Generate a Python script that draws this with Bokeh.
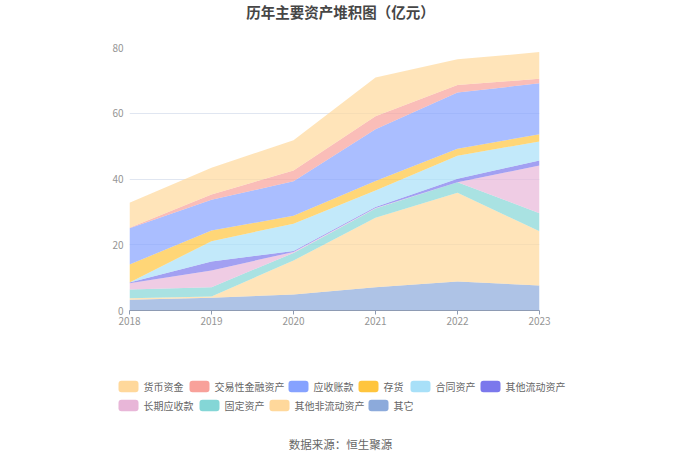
from bokeh.plotting import figure
from bokeh.models import ColumnDataSource, Range1d, FixedTicker
from bokeh.layouts import column, row
from bokeh.core.properties import value
from bokeh.embed import file_html
from bokeh.resources import INLINE

years = [2018, 2019, 2020, 2021, 2022, 2023]

# series values (亿元)
huobi = [7.6, 8.1, 9.2, 11.8, 7.8, 8.1]           # 货币资金
jiaoyi = [0.2, 1.6, 3.3, 4.0, 2.3, 1.4]           # 交易性金融资产
yingshou = [11.0, 9.4, 10.5, 15.7, 17.1, 15.5]    # 应收账款
cunhuo = [5.5, 3.2, 2.4, 2.9, 2.1, 2.2]           # 存货
hetong = [0.0, 6.2, 8.3, 5.0, 7.0, 5.8]           # 合同资产
qita_ld = [0.2, 2.7, 0.3, 0.3, 1.1, 1.5]          # 其他流动资产
changqi = [1.9, 5.1, 0.3, 0.2, 0.0, 14.5]         # 长期应收款
guding = [2.65, 2.85, 2.3, 2.8, 3.2, 5.5]         # 固定资产
qita_fld = [0.5, 0.4, 10.3, 21.1, 27.0, 16.5]     # 其他非流动资产
qita = [3.25, 3.85, 4.9, 7.1, 8.8, 7.6]           # 其它

names = ["货币资金", "交易性金融资产", "应收账款", "存货", "合同资产",
         "其他流动资产", "长期应收款", "固定资产", "其他非流动资产", "其它"]
series = [huobi, jiaoyi, yingshou, cunhuo, hetong, qita_ld, changqi, guding, qita_fld, qita]
colors = ["#FFD89B", "#F8A19A", "#86A2FF", "#FFC53D", "#A8E0F8",
          "#7B78EC", "#E8B6D8", "#84D6D6", "#FFD89B", "#8CAADB"]

y_ticks = [0, 20, 40, 60, 80]
title_text = "历年主要资产堆积图（亿元）"
source_text = "数据来源：恒生聚源"

FONT = "Noto Sans CJK SC"
W = 672
PL, PR = 129, 539            # data area left/right (canvas px)
TOP_H, MAIN_H, LEG_H = 30, 310, 112
PT, PB = 47, 310             # data area top/bottom (canvas px)


def text_fig(height, y_top):
    f = figure(width=W, height=height, x_range=Range1d(0, W), y_range=Range1d(y_top + height, y_top),
               x_axis_type=None, y_axis_type=None, min_border=0,
               output_backend="svg", toolbar_location=None)
    f.outline_line_color = None
    f.grid.visible = False
    return f


# ---- title figure ----
t = text_fig(TOP_H, 0)
t.text(x=[340], y=[11], text=[title_text], text_align="center", text_baseline="middle",
       text_font=value(FONT), text_font_size="14.5px", text_font_style="bold", text_color="#464646")

# ---- main chart ----
data = {"x": years}
for n, s in zip(names, series):
    data[n] = s
src = ColumnDataSource(data)

p = figure(width=W, height=MAIN_H,
           x_range=Range1d(years[0], years[-1]),
           y_range=Range1d(y_ticks[0], y_ticks[-1]),
           min_border_left=PL, min_border_right=W - PR,
           min_border_top=PT - TOP_H, min_border_bottom=TOP_H + MAIN_H - PB,
           output_backend="svg", toolbar_location=None)
p.outline_line_color = None
p.varea_stack(stackers=names[::-1], x="x", color=colors[::-1], fill_alpha=0.7, source=src)

p.xgrid.visible = False
p.ygrid.grid_line_color = "#E0E6F1"
p.yaxis.ticker = FixedTicker(ticks=y_ticks)
p.yaxis.axis_line_color = None
p.yaxis.major_tick_line_color = None
p.yaxis.minor_tick_line_color = None
p.yaxis.major_tick_in = 0
p.yaxis.major_tick_out = 0
p.yaxis.minor_tick_out = 0
p.yaxis.major_label_standoff = 6
p.yaxis.major_label_text_color = "#959595"
p.yaxis.major_label_text_font = FONT
p.yaxis.major_label_text_font_size = "10px"

p.xaxis.ticker = FixedTicker(ticks=years)
p.xaxis.axis_line_color = "#8E9BB3"
p.xaxis.major_tick_line_color = "#8E9BB3"
p.xaxis.major_tick_in = 0
p.xaxis.major_tick_out = 4
p.xaxis.minor_tick_line_color = None
p.xaxis.minor_tick_out = 0
p.xaxis.major_label_standoff = 2
p.xaxis.major_label_text_color = "#959595"
p.xaxis.major_label_text_font = FONT
p.xaxis.major_label_text_font_size = "10px"

# ---- legend + source figure (canvas pixel coordinates) ----
lg = text_fig(LEG_H, TOP_H + MAIN_H)
chip_left = [118, 189, 288, 358, 410, 480, 118, 199, 269, 368]
row_y = [386, 386, 386, 386, 386, 386, 405, 405, 405, 405]
chip_w, chip_h = 20, 11.5
lg.quad(left=chip_left, right=[c + chip_w for c in chip_left],
        top=[yy - chip_h / 2 for yy in row_y], bottom=[yy + chip_h / 2 for yy in row_y],
        color=colors, line_color=None, border_radius=3)
lg.text(x=[c + chip_w + 5 for c in chip_left], y=row_y, text=names,
        text_align="left", text_baseline="middle",
        text_font=value(FONT), text_font_size="10px", text_color="#666666")
lg.text(x=[340], y=[443], text=[source_text], text_align="center", text_baseline="middle",
        text_font=value(FONT), text_font_size="11.5px", text_color="#666666")

layout = column(row(t), p, row(lg), spacing=0)
open("out.html", "w").write(file_html(layout, INLINE))
